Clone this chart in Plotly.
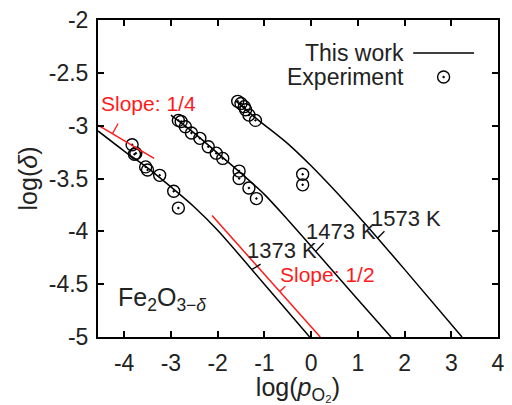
import plotly.graph_objects as go

# ---- data ----
calc_1373_x = [-4.56, -4.0, -3.5, -3.0, -2.5, -2.0, -1.0, -0.03]
calc_1373_y = [-3.05, -3.24, -3.40, -3.58, -3.77, -3.99, -4.50, -5.0]
calc_1473_x = [-3.0, -2.5, -2.0, -1.5, -1.0, -0.5, 0.0, 1.0, 1.71]
calc_1473_y = [-2.90, -3.07, -3.26, -3.45, -3.65, -3.89, -4.14, -4.645, -5.0]
calc_1573_x = [-1.6, -1.15, -0.5, 0.0, 0.71, 1.16, 2.0, 3.23]
calc_1573_y = [-2.77, -2.94, -3.17, -3.38, -3.71, -3.93, -4.36, -5.0]

exp_1373_x = [-3.83, -3.78, -3.75, -3.54, -3.50, -3.24, -2.94, -2.84]
exp_1373_y = [-3.18, -3.27, -3.26, -3.39, -3.42, -3.47, -3.62, -3.78]
exp_1473_x = [-2.84, -2.78, -2.69, -2.56, -2.38, -2.20, -2.03, -1.89, -1.54, -1.54, -1.33, -1.17]
exp_1473_y = [-2.95, -2.96, -3.01, -3.07, -3.12, -3.20, -3.26, -3.31, -3.43, -3.50, -3.59, -3.69]
exp_1573_x = [-1.57, -1.50, -1.43, -1.40, -1.33, -1.19, -0.18, -0.18]
exp_1573_y = [-2.77, -2.79, -2.82, -2.85, -2.90, -2.95, -3.46, -3.56]

slope14_x = [-4.56, -3.36]
slope14_y = [-2.995, -3.31]
slope12_x = [-2.12, 0.196]
slope12_y = [-3.85, -5.0]

x_ticks = [-4, -3, -2, -1, 0, 1, 2, 3, 4]
y_ticks = [-5, -4.5, -4, -3.5, -3, -2.5, -2]

FONT = "Liberation Sans, Arial, sans-serif"
TXT = "#222222"
RED = "#ff1a1a"

fig = go.Figure()
for cx, cy in [(calc_1373_x, calc_1373_y), (calc_1473_x, calc_1473_y), (calc_1573_x, calc_1573_y)]:
    fig.add_trace(go.Scatter(x=cx, y=cy, mode="lines", line=dict(color="black", width=1.5, shape="spline", smoothing=0.8),
                             showlegend=False, hoverinfo="skip"))
for ex, ey in [(exp_1373_x, exp_1373_y), (exp_1473_x, exp_1473_y), (exp_1573_x, exp_1573_y)]:
    fig.add_trace(go.Scatter(x=ex, y=ey, mode="markers",
                             marker=dict(symbol="circle-open-dot", size=12, color="black", line=dict(width=1.4)),
                             showlegend=False))
fig.add_trace(go.Scatter(x=slope14_x, y=slope14_y, mode="lines", line=dict(color=RED, width=1.5), showlegend=False))
fig.add_trace(go.Scatter(x=slope12_x, y=slope12_y, mode="lines", line=dict(color=RED, width=1.5), showlegend=False))

# leader lines
leaders = [
    ((-4.25, -3.075), (-4.13, -2.98), RED),
    ((-0.67, -4.57), (-0.55, -4.52), RED),
    ((-1.26, -4.36), (-1.08, -4.31), "black"),
    ((0.10, -4.19), (0.27, -4.11), "black"),
    ((1.43, -4.06), (1.57, -4.0), "black"),
]
for (x0, y0), (x1, y1), c in leaders:
    fig.add_shape(type="line", x0=x0, y0=y0, x1=x1, y1=y1, line=dict(color=c, width=1.3))

def label(x, y, text, color=TXT, size=21):
    fig.add_annotation(x=x, y=y, text=text, showarrow=False, xanchor="left", yanchor="middle",
                       font=dict(family=FONT, size=size, color=color))

label(-4.53, -2.79, "Slope: 1/4", RED)
label(-0.71, -4.41, "Slope: 1/2", RED)
label(-1.41, -4.18, "1373 K", size=22)
label(-0.16, -4.00, "1473 K", size=22)
label(1.245, -3.88, "1573 K", size=22)
label(-4.17, -4.64, "Fe<sub>2</sub>O<sub>3−<i>δ</i></sub>", size=25)

# legend (text left of key)
fig.add_annotation(xref="paper", yref="paper", x=0.771, y=0.896, text="This work", showarrow=False,
                   xanchor="right", yanchor="middle", font=dict(family=FONT, size=23, color=TXT))
fig.add_annotation(xref="paper", yref="paper", x=0.771, y=0.820, text="Experiment", showarrow=False,
                   xanchor="right", yanchor="middle", font=dict(family=FONT, size=23, color=TXT))
fig.add_shape(type="line", xref="paper", yref="paper", x0=0.788, x1=0.940, y0=0.896, y1=0.896,
              line=dict(color="black", width=1.5))
fig.add_shape(type="circle", xref="paper", yref="paper", xsizemode="pixel", ysizemode="pixel",
              xanchor=0.864, yanchor=0.820, x0=-6, x1=6, y0=-6, y1=6, line=dict(color="black", width=1.4))
fig.add_shape(type="circle", xref="paper", yref="paper", xsizemode="pixel", ysizemode="pixel",
              xanchor=0.864, yanchor=0.820, x0=-1, x1=1, y0=-1, y1=1, fillcolor="black", line=dict(color="black", width=0.5))

axis_common = dict(showgrid=False, zeroline=False, showline=True, linecolor="black", linewidth=2,
                   mirror="ticks", ticks="inside", ticklen=6, tickwidth=1.5, tickcolor="black",
                   tickfont=dict(family=FONT, size=23, color=TXT))
fig.update_xaxes(range=[-4.56, 4], tickvals=x_ticks, ticktext=[str(v) for v in x_ticks], ticklabelstandoff=4,
                 title=dict(text="log(<i>p</i><sub>O₂</sub>)", font=dict(family=FONT, size=25, color=TXT), standoff=4),
                 **axis_common)
fig.update_yaxes(range=[-5, -2], tickvals=y_ticks, ticktext=[("%g" % v) for v in y_ticks], ticklabelstandoff=3,
                 title=dict(text="log(<i>δ</i>)", font=dict(family=FONT, size=25, color=TXT), standoff=4),
                 **axis_common)
fig.update_layout(width=512, height=405, margin=dict(l=98, r=7, t=20, b=68),
                  plot_bgcolor="white", paper_bgcolor="white")
fig.write_html("out.html")
